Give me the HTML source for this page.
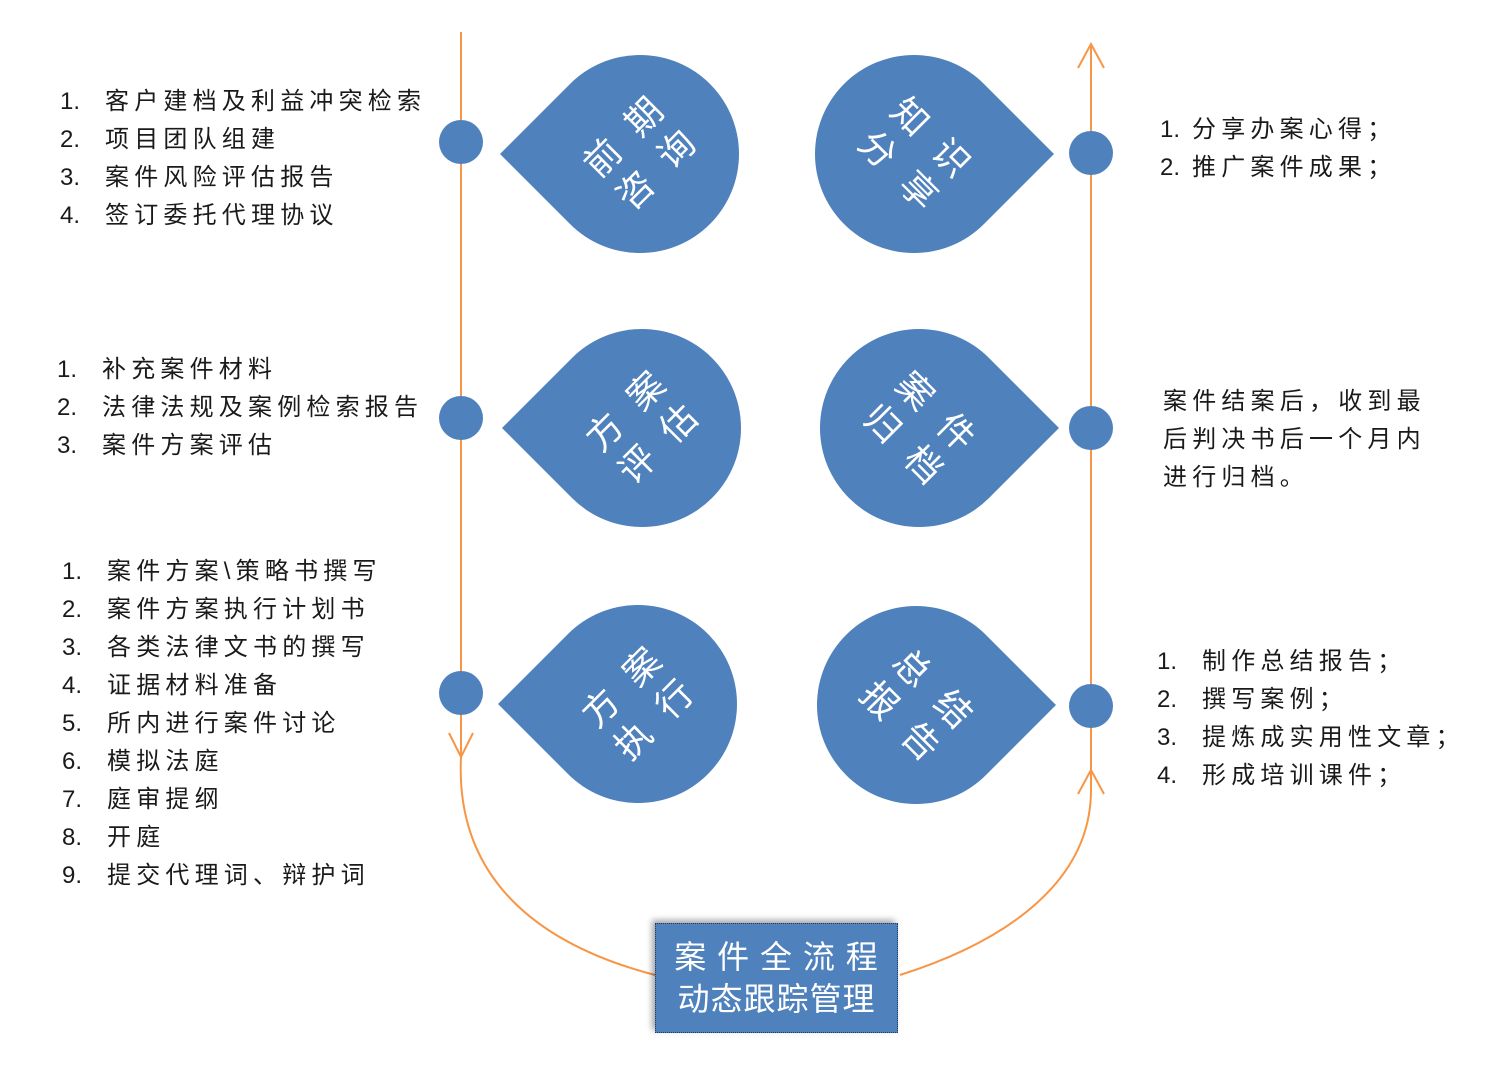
<!DOCTYPE html>
<html><head><meta charset="utf-8"><style>
body{margin:0;width:1506px;height:1080px;background:#fff;position:relative;overflow:hidden;font-family:"Liberation Sans","Noto Sans CJK SC",sans-serif;}
.t{position:absolute;font-size:24px;line-height:38px;color:#1a1a1a;letter-spacing:5.2px;white-space:nowrap}
.t span{display:inline-block;width:45px;letter-spacing:0}
.drop{position:absolute;width:198px;height:198px;background:#4f81bd;border-radius:50%;color:#fff;font-size:36px;line-height:46px;text-align:center;display:flex;flex-direction:column;justify-content:center;letter-spacing:22px;padding-left:22px;box-sizing:border-box}
.L{border-top-left-radius:0;transform:rotate(-45deg)}
.R{border-top-right-radius:0;transform:rotate(45deg)}
.dot{position:absolute;width:44px;height:44px;border-radius:50%;background:#4f81bd}
.box{position:absolute;left:655px;top:923px;width:243px;height:110px;background:#4f81bd;border:1px dotted #1f3864;box-sizing:border-box;box-shadow:-3px -3px 6px rgba(0,0,0,.35);color:#fff;font-size:32px;line-height:42px;text-align:center;padding-top:12px;letter-spacing:1px}
</style></head><body>
<svg width="1506" height="1080" style="position:absolute;left:0;top:0">
<g stroke="#f79646" stroke-width="2" fill="none">
<line x1="461" y1="32" x2="461" y2="757"/>
<polyline points="449,733 461,757 473,733"/>
<path d="M461,757 C455,880 540,945 655,975"/>
<line x1="1091" y1="45" x2="1091" y2="790"/>
<polyline points="1078,68 1091,44 1104,68"/>
<polyline points="1078,794 1091,770 1104,794"/>
<path d="M900,975 C1010,940 1091,880 1091,790"/>
</g></svg>
<div class="dot" style="left:439px;top:120px"></div>
<div class="dot" style="left:439px;top:396px"></div>
<div class="dot" style="left:439px;top:671px"></div>
<div class="dot" style="left:1069px;top:131px"></div>
<div class="dot" style="left:1069px;top:406px"></div>
<div class="dot" style="left:1069px;top:684px"></div>
<div class="drop L" style="left:541px;top:55px"><div>前期</div><div>咨询</div></div>
<div class="drop L" style="left:543px;top:329px"><div>方案</div><div>评估</div></div>
<div class="drop L" style="left:539px;top:605px"><div>方案</div><div>执行</div></div>
<div class="drop R" style="left:815px;top:55px"><div>知识</div><div>分享</div></div>
<div class="drop R" style="left:820px;top:329px"><div>案件</div><div>归档</div></div>
<div class="drop R" style="left:817px;top:606px"><div>总结</div><div>报告</div></div>
<div class="box">案 件 全 流 程<br>动态跟踪管理</div>
<div class="t" style="left:60px;top:83px"><span>1.</span>客户建档及利益冲突检索<br><span>2.</span>项目团队组建<br><span>3.</span>案件风险评估报告<br><span>4.</span>签订委托代理协议</div>
<div class="t" style="left:57px;top:351px"><span>1.</span>补充案件材料<br><span>2.</span>法律法规及案例检索报告<br><span>3.</span>案件方案评估</div>
<div class="t" style="left:62px;top:553px"><span>1.</span>案件方案\策略书撰写<br><span>2.</span>案件方案执行计划书<br><span>3.</span>各类法律文书的撰写<br><span>4.</span>证据材料准备<br><span>5.</span>所内进行案件讨论<br><span>6.</span>模拟法庭<br><span>7.</span>庭审提纲<br><span>8.</span>开庭<br><span>9.</span>提交代理词、辩护词</div>
<div class="t" style="left:1160px;top:111px"><span style="width:32px">1.</span>分享办案心得；<br><span style="width:32px">2.</span>推广案件成果；</div>
<div class="t" style="left:1163px;top:383px">案件结案后，收到最<br>后判决书后一个月内<br>进行归档。</div>
<div class="t" style="left:1157px;top:643px"><span>1.</span>制作总结报告；<br><span>2.</span>撰写案例；<br><span>3.</span>提炼成实用性文章；<br><span>4.</span>形成培训课件；</div>
</body></html>
